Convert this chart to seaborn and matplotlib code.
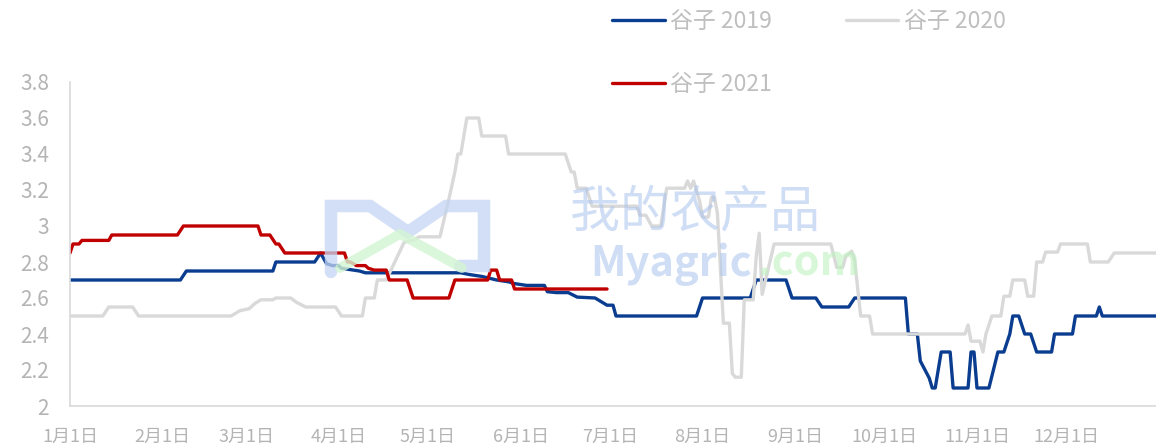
import pandas as pd
import seaborn as sns
import matplotlib.pyplot as plt
from matplotlib.lines import Line2D

# --- données (mois-jour, prix) ---
dates_2019 = ["01-01", "02-07", "02-09", "03-10", "03-11", "03-24", "03-26", "03-28", "03-30", "04-01",
              "04-02", "04-08", "04-10", "05-12", "05-15", "05-19", "05-24", "05-28", "05-30", "06-03",
              "06-09", "06-10", "06-13", "06-17", "06-20", "06-26", "06-28", "06-30", "07-02", "07-03",
              "07-30", "08-01", "08-17", "08-19", "08-29", "08-31", "09-08", "09-10", "09-19", "09-21",
              "10-08", "10-09", "10-12", "10-13", "10-16", "10-17", "10-18", "10-20", "10-23", "10-24",
              "10-29", "10-30", "10-31", "11-01", "11-05", "11-08", "11-10", "11-11", "11-12", "11-13",
              "11-15", "11-17", "11-19", "11-21", "11-26", "11-27", "12-03", "12-04", "12-11", "12-12",
              "12-13", "12-31"]
prix_2019 = [2.70, 2.70, 2.75, 2.75, 2.80, 2.80, 2.85, 2.79, 2.78, 2.78,
             2.765, 2.75, 2.74, 2.74, 2.73, 2.72, 2.70, 2.69, 2.68, 2.67,
             2.67, 2.635, 2.63, 2.63, 2.605, 2.60, 2.58, 2.56, 2.56, 2.50,
             2.50, 2.60, 2.60, 2.70, 2.70, 2.60, 2.60, 2.55, 2.55, 2.60,
             2.60, 2.40, 2.40, 2.25, 2.155, 2.10, 2.10, 2.30, 2.30, 2.10,
             2.10, 2.30, 2.30, 2.10, 2.10, 2.30, 2.30, 2.35, 2.40, 2.50,
             2.50, 2.40, 2.40, 2.30, 2.30, 2.40, 2.40, 2.50, 2.50, 2.55,
             2.50, 2.50]

dates_2020 = ["01-01", "01-12", "01-14", "01-22", "01-24", "02-24", "02-27", "03-02", "03-04", "03-06",
              "03-10", "03-11", "03-16", "03-18", "03-21", "03-31", "04-02", "04-09", "04-10", "04-13",
              "04-14", "04-17", "04-23", "04-26", "04-28", "05-05", "05-08", "05-10", "05-11", "05-12",
              "05-14", "05-18", "05-19", "05-27", "05-28", "06-16", "06-18", "06-19", "06-20", "06-23",
              "06-25", "07-10", "07-11", "07-13", "07-15", "07-18", "07-20", "07-26", "07-27", "07-28",
              "07-29", "07-31", "08-01", "08-03", "08-04", "08-05", "08-06", "08-08", "08-10", "08-11",
              "08-12", "08-14", "08-15", "08-18", "08-19", "08-20", "08-21", "08-25", "09-13", "09-15",
              "09-17", "09-18", "09-20", "09-21", "09-23", "09-26", "09-27", "10-28", "10-29", "10-30",
              "11-02", "11-03", "11-04", "11-06", "11-09", "11-10", "11-12", "11-13", "11-17", "11-18",
              "11-20", "11-21", "11-23", "11-24", "11-28", "11-29", "12-08", "12-09", "12-15", "12-17",
              "12-31"]
prix_2020 = [2.50, 2.50, 2.55, 2.55, 2.50, 2.50, 2.53, 2.54, 2.57, 2.59,
             2.59, 2.60, 2.60, 2.575, 2.55, 2.55, 2.50, 2.50, 2.60, 2.60,
             2.70, 2.70, 2.91, 2.92, 2.94, 2.94, 3.15, 3.30, 3.40, 3.40,
             3.60, 3.60, 3.50, 3.50, 3.40, 3.40, 3.30, 3.30, 3.21, 3.21,
             3.11, 3.11, 3.06, 3.06, 3.00, 3.00, 3.21, 3.21, 3.25, 3.21,
             3.25, 3.14, 3.05, 3.05, 3.16, 3.16, 3.07, 2.46, 2.46, 2.18,
             2.16, 2.16, 2.59, 2.59, 2.83, 2.96, 2.62, 2.90, 2.90, 2.77,
             2.77, 2.83, 2.86, 2.81, 2.50, 2.50, 2.40, 2.40, 2.45, 2.36,
             2.36, 2.30, 2.40, 2.50, 2.50, 2.61, 2.61, 2.70, 2.70, 2.61,
             2.61, 2.80, 2.80, 2.855, 2.855, 2.90, 2.90, 2.80, 2.80, 2.85,
             2.85]

dates_2021 = ["01-01", "01-02", "01-04", "01-05", "01-14", "01-15", "02-06", "02-08", "03-05", "03-06",
              "03-09", "03-11", "03-12", "03-14", "04-03", "04-04", "04-05", "04-07", "04-10", "04-11",
              "04-13", "04-17", "04-18", "04-24", "04-26", "05-08", "05-10", "05-21", "05-22", "05-24",
              "05-25", "05-29", "05-30", "06-30"]
prix_2021 = [2.85, 2.90, 2.90, 2.92, 2.92, 2.95, 2.95, 3.00, 3.00, 2.95,
             2.95, 2.90, 2.90, 2.85, 2.85, 2.80, 2.80, 2.78, 2.78, 2.765,
             2.755, 2.755, 2.70, 2.70, 2.60, 2.60, 2.70, 2.70, 2.755, 2.755,
             2.70, 2.70, 2.65, 2.65]

series = ["谷子 2019", "谷子 2020", "谷子 2021"]
couleurs = ["#0a3d8f", "#d9d9d9", "#c00000"]
mois = ["1月1日", "2月1日", "3月1日", "4月1日", "5月1日", "6月1日",
        "7月1日", "8月1日", "9月1日", "10月1日", "11月1日", "12月1日"]
y_ticks = [2, 2.2, 2.4, 2.6, 2.8, 3, 3.2, 3.4, 3.6, 3.8]

# --- tableau long, toutes les années sur un même axe jan-déc ---
frames = []
for nom, d, p in zip(series, [dates_2019, dates_2020, dates_2021], [prix_2019, prix_2020, prix_2021]):
    frames.append(pd.DataFrame({"date": pd.to_datetime(["2019-" + x for x in d]), "prix": p, "serie": nom}))
df = pd.concat(frames, ignore_index=True)

sns.set_theme(style="white")
plt.rcParams["font.family"] = ["Noto Sans CJK SC", "DejaVu Sans"]

W, H = 1156, 448
fig = plt.figure(figsize=(W / 100, H / 100), dpi=100)
ax = fig.add_axes([70 / W, 42 / H, 1086 / W, 324 / H])

sns.lineplot(data=df, x="date", y="prix", hue="serie", palette=dict(zip(series, couleurs)),
             estimator=None, sort=False, linewidth=2.4, legend=False, ax=ax)

ax.set_xlim(pd.Timestamp("2019-01-01"), pd.Timestamp("2019-12-31"))
ax.set_ylim(2, 3.8)
ax.set_xticks(pd.date_range("2019-01-01", periods=12, freq="MS"))
ax.set_xticklabels(mois)
ax.set_yticks(y_ticks)
ax.set_yticklabels([f"{v:g}" for v in y_ticks])
ax.set_xlabel("")
ax.set_ylabel("")

for s in ["top", "right"]:
    ax.spines[s].set_visible(False)
for s in ["left", "bottom"]:
    ax.spines[s].set_color("#d9d9d9")
    ax.spines[s].set_linewidth(1.2)
ax.tick_params(axis="both", direction="out", length=7, width=1, color="#d9d9d9", labelcolor="#b4b4b4")
ax.tick_params(axis="y", labelsize=15, pad=8)
ax.tick_params(axis="x", labelsize=13, pad=9)

# légende : 2019 | 2020 sur la 1re ligne, 2021 dessous (remplissage par colonne)
lignes = ax.get_lines()
ordre = [0, 2, 1]
leg = ax.legend([lignes[i] for i in ordre], [series[i] for i in ordre], ncol=2, loc="upper left",
                bbox_to_anchor=(612 / W, 1 - 10 / H), bbox_transform=fig.transFigure,
                frameon=False, fontsize=16.5, handlelength=2.3, handletextpad=0.25,
                columnspacing=3.2, labelspacing=1.75, borderpad=0, borderaxespad=0)
for t in leg.get_texts():
    t.set_color("#bfbfbf")


# filigrane (logo + texte), coordonnées en pixels de la figure
def px(x, y):
    return x / W, 1 - y / H


xs, ys = zip(*[px(x, y) for x, y in [(331, 272), (331, 206), (370, 206), (408, 232),
                                     (446, 206), (484, 206), (484, 266), (460, 266)]])
fig.add_artist(Line2D(xs, ys, transform=fig.transFigure, color="#c3d5f3", alpha=0.75,
                      linewidth=9, solid_joinstyle="miter", zorder=5))
xs, ys = zip(*[px(x, y) for x, y in [(340, 268), (400, 234), (462, 268)]])
fig.add_artist(Line2D(xs, ys, transform=fig.transFigure, color="#d3f5d3", alpha=0.8,
                      linewidth=7, solid_joinstyle="miter", zorder=5))

fig.text(*px(695, 212), "我的农产品", fontsize=36, color="#a9c4ee", alpha=0.55,
         ha="center", va="center", zorder=6)
fig.text(*px(752, 264), "Myagric", fontsize=30, color="#a9c4ee", alpha=0.55,
         ha="right", va="center", zorder=6, fontweight="bold")
fig.text(*px(758, 264), ".com", fontsize=30, color="#bff2bf", alpha=0.6,
         ha="left", va="center", zorder=6, fontweight="bold")

fig.savefig("out.png", dpi=100)
